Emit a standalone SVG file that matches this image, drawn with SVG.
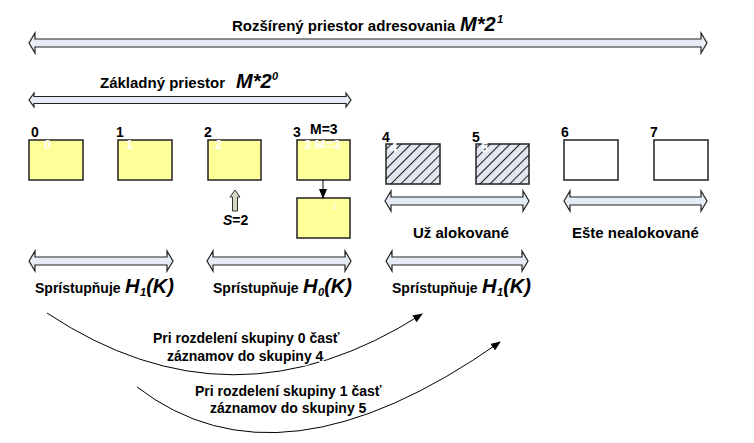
<svg xmlns="http://www.w3.org/2000/svg" width="754" height="443" viewBox="0 0 754 443">
<style>
text{font-family:"Liberation Sans",Arial,sans-serif;font-weight:bold;fill:#000}
.t15{font-size:15px}
.t14{font-size:14px}
.big{font-size:20px;font-style:italic}
.sup{font-size:11px;font-style:italic}
.wt{fill:#fff;font-size:13px}
.box{fill:#ffff99;stroke:#222;stroke-width:1.5}
.hatch{fill:url(#hp);stroke:#222;stroke-width:1.5}
.empty{fill:#fff;stroke:#222;stroke-width:1.5}
.dbl{fill:#e6ecf5;stroke:#222;stroke-width:1.2;stroke-linejoin:miter}
.conn{fill:none;stroke:#000;stroke-width:1}
.halo{paint-order:stroke;stroke:#fff;stroke-width:3px;stroke-linejoin:round}
</style>
<defs>
<pattern id="hp" patternUnits="userSpaceOnUse" width="7" height="7" patternTransform="rotate(45)">
<rect width="7" height="7" fill="#e3e8f0"/>
<line x1="0.5" y1="0" x2="0.5" y2="7" stroke="#222" stroke-width="1.1"/>
</pattern>
<marker id="ah" markerWidth="10" markerHeight="8" refX="9" refY="4" orient="auto" markerUnits="userSpaceOnUse">
<path d="M0,0 L10,4 L0,8 Z" fill="#000"/>
</marker>
</defs>

<g id="range-extended">
<path class="dbl" d="M29,43 L35,33 L35,39 L701,39 L701,33 L707,43 L701,53 L701,47 L35,47 L35,53 Z"/>
<text class="t15" x="232" y="31">Rozšírený priestor adresovania <tspan class="big" x="460">M*2</tspan><tspan class="sup" x="497" y="23">1</tspan></text>
</g>

<g id="range-basic">
<path class="dbl" d="M29,100 L34,93 L34,96.5 L346,96.5 L346,93 L351,100 L346,107 L346,103.5 L34,103.5 L34,107 Z"/>
<text class="t15" x="100" y="88">Základný priestor <tspan class="big" x="236">M*2</tspan><tspan class="sup" x="272" y="80">0</tspan></text>
</g>

<g id="bucket0">
<rect class="box" x="29" y="140" width="54" height="40"/>
<text class="t14" x="31" y="137">0</text>
<text class="wt" x="44" y="149">0</text>
</g>
<g id="bucket1">
<rect class="box" x="118" y="140" width="54" height="40"/>
<text class="t14" x="116" y="137">1</text>
<text class="wt" x="126" y="149">1</text>
</g>
<g id="bucket2">
<rect class="box" x="208" y="140" width="53" height="40"/>
<text class="t14" x="204" y="137">2</text>
<text class="wt" x="215" y="149">2</text>
</g>
<g id="bucket3">
<rect class="box" x="297" y="140" width="53" height="40"/>
<text class="t14" x="293" y="137">3</text>
<text class="t14" x="310" y="134">M=3</text>
<text class="wt" x="304" y="149">3 M=3</text>
</g>
<g id="bucket3-overflow">
<rect class="box" x="297" y="198" width="53" height="40"/>
<text class="wt" x="332" y="209">↓</text>
</g>
<g id="bucket4">
<rect class="hatch" x="386" y="144" width="54" height="40"/>
<text class="t14" x="382" y="142">4</text>
<text class="wt" x="390" y="152">4</text>
</g>
<g id="bucket5">
<rect class="hatch" x="476" y="144" width="53" height="40"/>
<text class="t14" x="472" y="142">5</text>
<text class="wt" x="481" y="152">5</text>
</g>
<g id="bucket6">
<rect class="empty" x="564" y="140" width="54" height="40"/>
<text class="t14" x="561" y="137">6</text>
</g>
<g id="bucket7">
<rect class="empty" x="654" y="140" width="54" height="40"/>
<text class="t14" x="650" y="137">7</text>
</g>

<g id="split-pointer">
<path d="M235,190 L240,197 L237.5,197 L237.5,211 L232.5,211 L232.5,197 L230,197 Z" fill="#d4d6c4" stroke="#333" stroke-width="1"/>
<text class="t14" x="223" y="225"><tspan font-style="italic">S</tspan>=2</text>
</g>

<g id="range-allocated">
<path class="dbl" d="M385,201 L391,191 L391,197 L523,197 L523,191 L529,201 L523,211 L523,205 L391,205 L391,211 Z"/>
<text class="t15" x="413" y="238">Už alokované</text>
</g>
<g id="range-unallocated">
<path class="dbl" d="M564,201 L570,191 L570,197 L701,197 L701,191 L707,201 L701,211 L701,205 L570,205 L570,211 Z"/>
<text class="t15" x="572" y="238">Ešte nealokované</text>
</g>

<g id="access-h1-left">
<path class="dbl" d="M29,261 L35,251 L35,257 L167,257 L167,251 L173,261 L167,271 L167,265 L35,265 L35,271 Z"/>
<text class="t14" x="35" y="293">Sprístupňuje <tspan class="big" x="125">H</tspan><tspan class="sup" x="140" y="296">1</tspan><tspan class="big" y="293">(K)</tspan></text>
</g>
<g id="access-h0">
<path class="dbl" d="M207,261 L213,251 L213,257 L345,257 L345,251 L351,261 L345,271 L345,265 L213,265 L213,271 Z"/>
<text class="t14" x="213" y="293">Sprístupňuje <tspan class="big" x="303">H</tspan><tspan class="sup" x="318" y="296">0</tspan><tspan class="big" y="293">(K)</tspan></text>
</g>
<g id="access-h1-right">
<path class="dbl" d="M386,261 L392,251 L392,257 L522,257 L522,251 L528,261 L522,271 L522,265 L392,265 L392,271 Z"/>
<text class="t14" x="392" y="293">Sprístupňuje <tspan class="big" x="482">H</tspan><tspan class="sup" x="497" y="296">1</tspan><tspan class="big" y="293">(K)</tspan></text>
</g>

<g id="connectors">
<line class="conn" x1="323" y1="180" x2="323" y2="198" marker-end="url(#ah)"/>
<path class="conn" d="M47,313 Q232,436 422,314" marker-end="url(#ah)"/>
<path class="conn" d="M137,387 Q280,497 500,342" marker-end="url(#ah)"/>
</g>

<g id="split-labels">
<text class="t14 halo" x="153" y="343">Pri rozdelení skupiny 0 časť</text>
<text class="t14 halo" x="167" y="361">záznamov do skupiny 4</text>
<text class="t14 halo" x="195" y="396">Pri rozdelení skupiny 1 časť</text>
<text class="t14 halo" x="210" y="413">záznamov do skupiny 5</text>
</g>
</svg>
